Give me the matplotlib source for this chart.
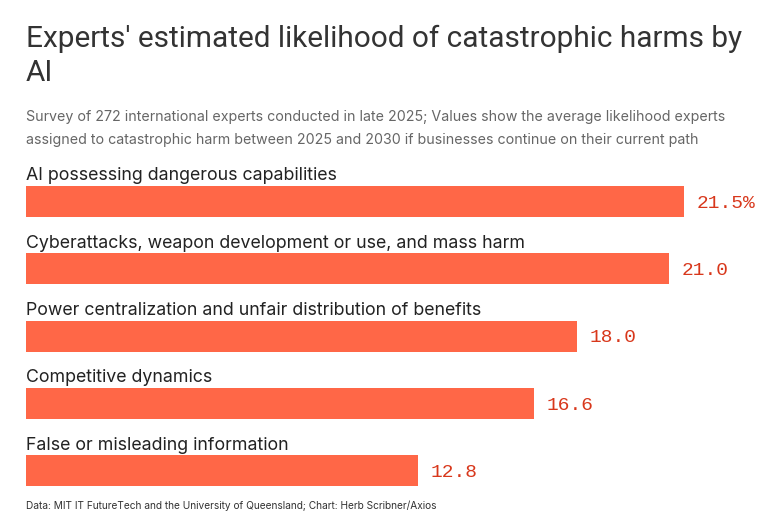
import matplotlib
matplotlib.use("Agg")
import matplotlib.pyplot as plt

categories = [
    "AI possessing dangerous capabilities",
    "Cyberattacks, weapon development or use, and mass harm",
    "Power centralization and unfair distribution of benefits",
    "Competitive dynamics",
    "False or misleading information",
]
values = [21.5, 21.0, 18.0, 16.6, 12.8]
value_labels = ["21.5%", "21.0", "18.0", "16.6", "12.8"]

title = "Experts' estimated likelihood of catastrophic harms by\nAI"
subtitle = ("Survey of 272 international experts conducted in late 2025; Values show the average likelihood experts\n"
            "assigned to catastrophic harm between 2025 and 2030 if businesses continue on their current path")
footer = "Data: MIT IT FutureTech and the University of Queensland; Chart: Herb Scribner/Axios"

W, H = 768, 517
fig = plt.figure(figsize=(W / 100, H / 100), dpi=100)
fig.patch.set_facecolor("white")

bar_color = "#ff6747"
val_color = "#d8371b"
sans = ["Inter", "DejaVu Sans"]
title_font = ["Roboto", "DejaVu Sans"]

# axes geometry in pixels
ax_left, ax_right = 26, 742
ax_top, ax_bot = 150, 500
ax = fig.add_axes([ax_left / W, 1 - ax_bot / H, (ax_right - ax_left) / W, (ax_bot - ax_top) / H])
px_per_unit = 30.6
ax.set_xlim(0, (ax_right - ax_left) / px_per_unit)
first_center, spacing = 201.5, 67.25
ax.set_ylim((ax_bot - first_center) / spacing, (ax_top - first_center) / spacing)
ax.axis("off")

ys = list(range(len(values)))
ax.barh(ys, values, height=31 / spacing, color=bar_color, left=0)
label_off = (first_center - 176) / spacing
for y, cat, v, lab in zip(ys, categories, values, value_labels):
    ax.text(0, y - label_off, cat, ha="left", va="center", fontsize=12.8,
            color="#222222", family=sans)
    ax.text(v + 13 / px_per_unit, y + 2 / spacing, lab, ha="left", va="center", fontsize=14,
            color=val_color, family=["Liberation Mono", "DejaVu Sans Mono"])

fig.text(26 / W, 1 - 25 / H, title, ha="left", va="top", fontsize=21.4,
         color="#333333", family=title_font, linespacing=1.25)
fig.text(26 / W, 1 - 110 / H, subtitle, ha="left", va="top", fontsize=10.25,
         color="#666666", family=sans, linespacing=1.8)
fig.text(26 / W, 1 - 506 / H, footer, ha="left", va="center", fontsize=7.3,
         color="#333333", family=sans)

fig.savefig("out.png", dpi=100, facecolor="white")
